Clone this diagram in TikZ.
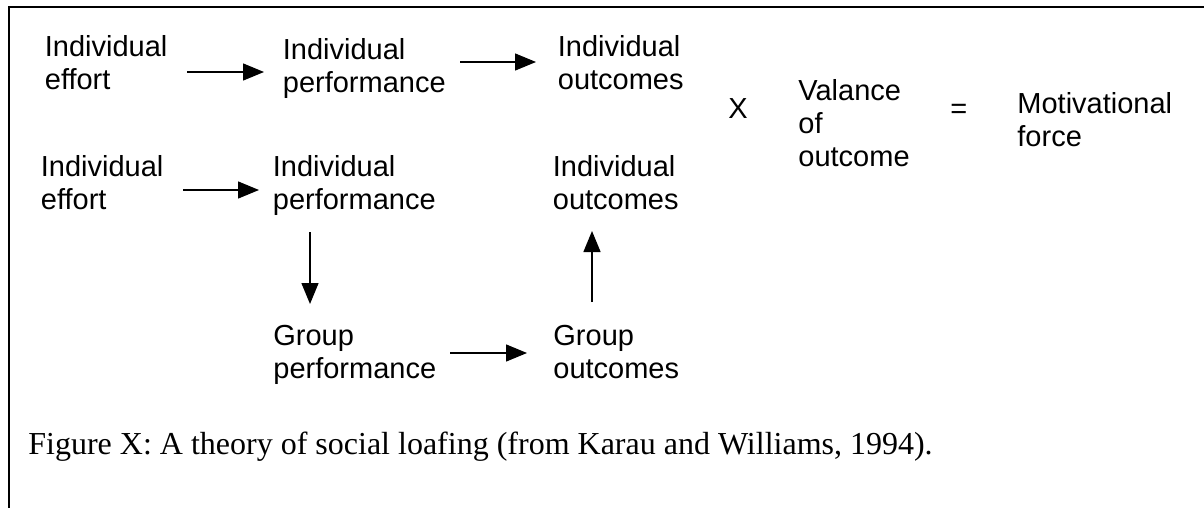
\documentclass[tikz,border=0pt]{standalone}
\usepackage{fontspec}
\setmainfont{Liberation Serif}
\setsansfont{Liberation Sans}
\usetikzlibrary{arrows.meta}
\tikzset{
  lbl/.style={inner sep=0pt, anchor=north west, align=left, font=\sffamily\fontsize{14.5pt}{16.5pt}\selectfont},
  sym/.style={inner sep=0pt, anchor=base west, font=\sffamily\fontsize{14.5pt}{16.5pt}\selectfont},
  arr/.style={line width=0.7pt, -{Triangle[length=10.5pt,width=8.5pt]}},
  frame/.style={line width=1pt}
}
\begin{document}
\begin{tikzpicture}[x=0.5pt,y=-0.5pt]
\useasboundingbox (0,0) rectangle (1204,508);
\draw[frame] (9,520) -- (9,7) -- (1220,7);
% row 1
\node[lbl] (A1) at (44.5,35) {Individual\\effort};
\node[lbl] (B1) at (282.5,38) {Individual\\performance};
\node[lbl] (C1) at (557.5,35) {Individual\\outcomes};
\node[sym] (X) at (728,119) {X};
\node[lbl] (V) at (798,79) {Valance\\of\\outcome};
\node[sym] (EQ) at (950,119) {=};
\node[lbl] (M) at (1017,92) {Motivational\\force};
% row 2
\node[lbl] (A2) at (40.5,155) {Individual\\effort};
\node[lbl] (B2) at (272.5,155) {Individual\\performance};
\node[lbl] (C2) at (552.5,155) {Individual\\outcomes};
\node[lbl] (G1) at (273,325) {Group\\performance};
\node[lbl] (G2) at (553,325) {Group\\outcomes};
% arrow ends
\coordinate (a1s) at (187,72);  \coordinate (a1e) at (264,72);
\coordinate (b1s) at (460,62);  \coordinate (b1e) at (536,62);
\coordinate (a2s) at (183,190); \coordinate (a2e) at (259,190);
\coordinate (b2s) at (310,232); \coordinate (b2e) at (310,304);
\coordinate (g1s) at (450,353); \coordinate (g1e) at (527,353);
\coordinate (g2s) at (592,302); \coordinate (g2e) at (592,231);
\draw[arr] (a1s) -- (a1e);
\draw[arr] (b1s) -- (b1e);
\draw[arr] (a2s) -- (a2e);
\draw[arr] (b2s) -- (b2e);
\draw[arr] (g1s) -- (g1e);
\draw[arr] (g2s) -- (g2e);
% caption
\node[inner sep=0pt, anchor=north west, font=\rmfamily\fontsize{16pt}{19pt}\selectfont] (cap) at (28,432)
  {Figure X: A theory of social loafing (from Karau and Williams, 1994).};
\end{tikzpicture}
\end{document}
